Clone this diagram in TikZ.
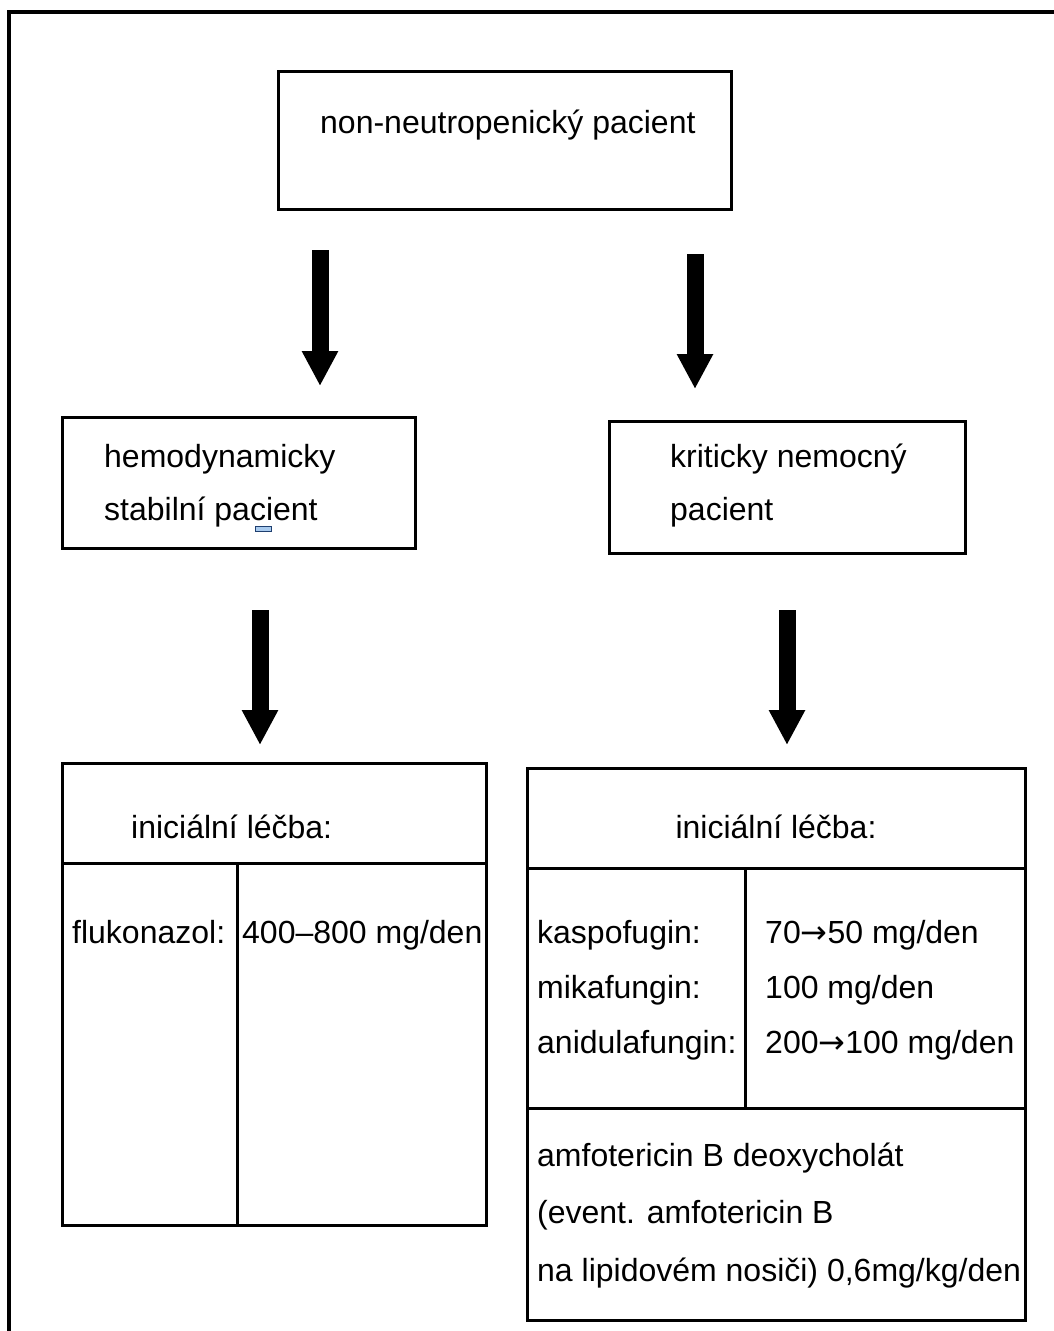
\documentclass[tikz,border=0pt]{standalone}
\usepackage{fontspec}
\setmainfont{Liberation Sans}
\newfontfamily\arrowfont{DejaVu Sans}
\usepackage{tikz}
\usetikzlibrary{arrows.meta}
\definecolor{markblue}{HTML}{A9CBEF}
\definecolor{markedge}{HTML}{1F3F6F}
\tikzset{
  box/.style={draw, line width=3pt, inner sep=0pt},
  txt/.style={inner sep=0pt, anchor=base west, font=\fontsize{32pt}{38pt}\selectfont},
  bigarrow/.style={line width=17pt, -{Triangle[width=34pt,length=35pt]}}
}
\newcommand{\thento}{{\arrowfont →}}

\begin{document}
\begin{tikzpicture}[x=1pt, y=-1pt]
  \useasboundingbox (0,0) rectangle (1053,1331);
  % outer frame, cut by the page on the right and at the bottom
  \draw[line width=4pt] (9,1345) -- (9,12) -- (1070,12);

  % boxes
  \node[box, minimum width=453pt, minimum height=138pt] (start) at (504.5,140) {};
  \node[box, minimum width=353pt, minimum height=131pt] (stable) at (238.5,482.5) {};
  \node[box, minimum width=356pt, minimum height=132pt] (critical) at (787,487) {};

  \node[box, minimum width=424pt, minimum height=100pt] (lhead) at (274,813) {};
  \node[box, minimum width=175pt, minimum height=362pt] (lname) at (149.5,1044) {};
  \node[box, minimum width=249pt, minimum height=362pt] (ldose) at (361.5,1044) {};

  \node[box, minimum width=498pt, minimum height=100pt] (rhead) at (776,818) {};
  \node[box, minimum width=218pt, minimum height=240pt] (rname) at (636,988) {};
  \node[box, minimum width=280pt, minimum height=240pt] (rdose) at (885,988) {};
  \node[box, minimum width=498pt, minimum height=212pt] (ramfo) at (776,1214) {};

  % block arrows
  \draw[bigarrow] (320,250) -- (320,386);
  \draw[bigarrow] (695,254) -- (695,389);
  \draw[bigarrow] (260,610) -- (260,745);
  \draw[bigarrow] (787,610) -- (787,745);

  % texts
  \node[txt] (tstart) at (320,133) {non-neutropenický pacient};
  \node[txt] (tstable1) at (104,467) {hemodynamicky};
  \node[txt] (tstable2) at (104,520) {stabilní pacient};
  \fill[markblue, draw=markedge, line width=1pt] (255,526) rectangle (271,531);
  \node[txt] (tcrit1) at (670,467) {kriticky nemocný};
  \node[txt] (tcrit2) at (670,520) {pacient};

  \node[txt] (tlhead) at (131,838) {iniciální léčba:};
  \node[txt] (tflu) at (72,943) {flukonazol:};
  \node[txt] (tfludose) at (242,943) {400–800 mg/den};

  \node[txt, anchor=base] (trhead) at (776,838) {iniciální léčba:};
  \node[txt] (tkas) at (537,943) {kaspofugin:};
  \node[txt] (tmik) at (537,998) {mikafungin:};
  \node[txt] (tani) at (537,1053) {anidulafungin:};
  \node[txt] (tkasdose) at (765,943) {70\thento50 mg/den};
  \node[txt] (tmikdose) at (765,998) {100 mg/den};
  \node[txt] (tanidose) at (765,1053) {200\thento100 mg/den};
  \node[txt] (tamfo1) at (537,1166) {amfotericin B deoxycholát};
  \node[txt] (tamfo2) at (537,1223) {(event. amfotericin B};
  \node[txt] (tamfo3) at (537,1281) {na lipidovém nosiči) 0,6mg/kg/den};
\end{tikzpicture}
\end{document}
